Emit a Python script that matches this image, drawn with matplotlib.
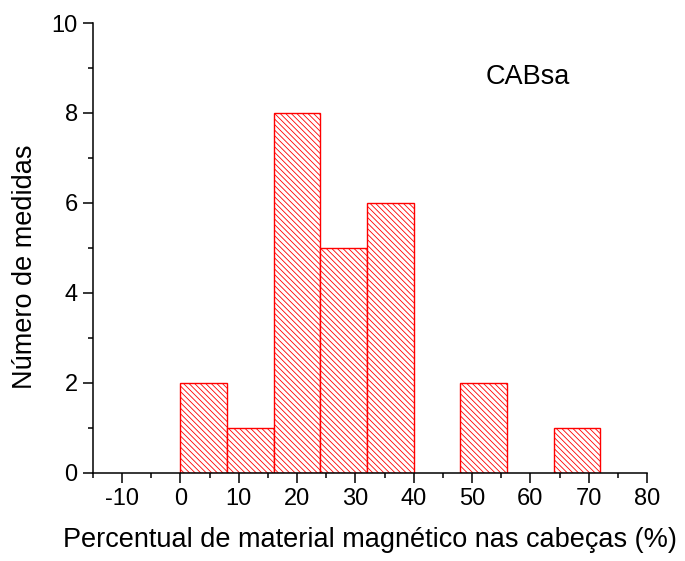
import numpy as np
import matplotlib
matplotlib.use('Agg')
import matplotlib.pyplot as plt
from matplotlib.ticker import MultipleLocator

# histogram of magnetic material percentage
bin_left = [0, 8, 16, 24, 32, 48, 64]
counts = [2, 1, 8, 5, 6, 2, 1]
bin_width = 8
sample_name = 'CABsa'

plt.rcParams['font.family'] = ['Liberation Sans', 'DejaVu Sans']
plt.rcParams['axes.unicode_minus'] = False
plt.rcParams['hatch.color'] = 'red'
plt.rcParams['hatch.linewidth'] = 0.6

fig = plt.figure(figsize=(6.85, 5.61), dpi=100)
ax = fig.add_axes([0.1358, 0.1569, 0.8087, 0.8021])

ax.bar(bin_left, counts, width=bin_width, align='edge', facecolor='white',
       edgecolor='red', linewidth=1.0, hatch='\\' * 6)

ax.set_xlim(-15, 80)
ax.set_ylim(0, 10)
ax.xaxis.set_major_locator(MultipleLocator(10))
ax.xaxis.set_minor_locator(MultipleLocator(5))
ax.yaxis.set_major_locator(MultipleLocator(2))
ax.yaxis.set_minor_locator(MultipleLocator(1))

for side in ['top', 'right']:
    ax.spines[side].set_visible(False)
for side in ['left', 'bottom']:
    ax.spines[side].set_linewidth(1.1)

ax.tick_params(which='major', direction='out', length=7, width=1.1, labelsize=17, pad=4)
ax.tick_params(which='minor', direction='out', length=3.5, width=1.1)

ax.set_xlabel('Percentual de material magnético nas cabeças (%)', fontsize=19.5, labelpad=12)
ax.set_ylabel('Número de medidas', fontsize=19.5)
ax.yaxis.set_label_coords(-0.1, 0.458)

ax.text(52.3, 8.8, sample_name, fontsize=19.5, va='center', ha='left')

fig.savefig('out.png', dpi=100)
